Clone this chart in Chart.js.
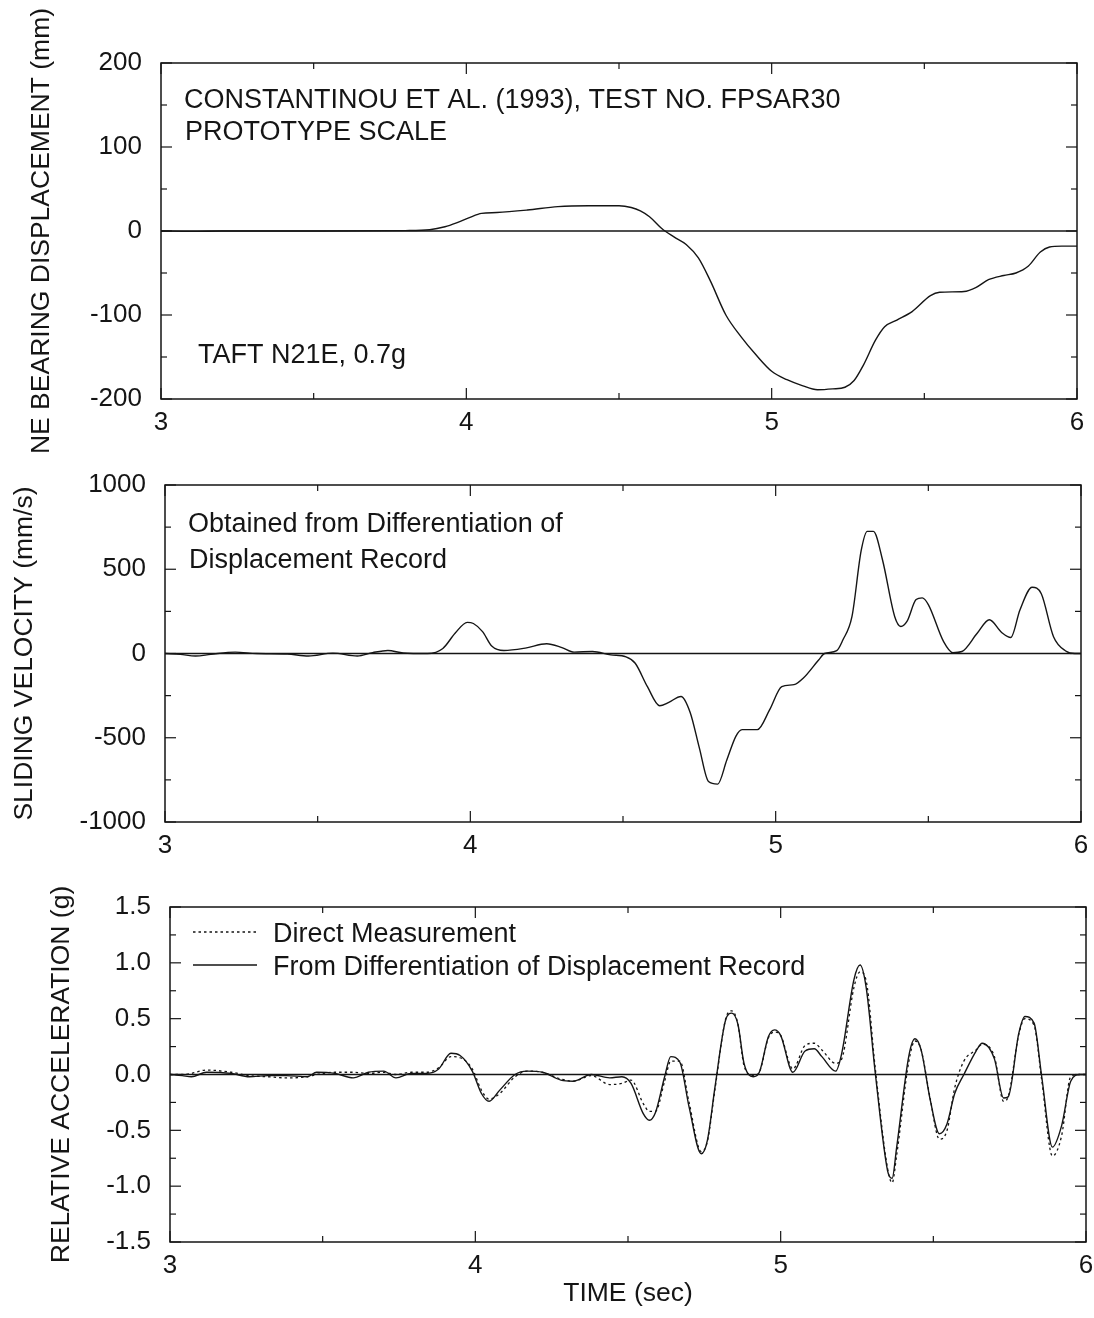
<!DOCTYPE html>
<html>
<head>
<meta charset="utf-8">
<script src="https://cdn.jsdelivr.net/npm/chart.js@4"></script>
<style>
  html, body { margin: 0; padding: 0; background: #fff; }
  #page { position: relative; width: 1094px; height: 1318px; overflow: hidden; }
  canvas { position: absolute; left: 0; }
</style>
</head>
<body>
<div id="page">
  <canvas id="disp" width="1094" height="460" style="top:0"></canvas>
  <canvas id="vel" width="1094" height="420" style="top:460px"></canvas>
  <canvas id="acc" width="1094" height="438" style="top:880px"></canvas>
</div>
<script>
// ---- data ----
const xTicks = [3, 4, 5, 6];
const xMinor = [3.5, 4.5, 5.5];

// NE bearing displacement (mm)
const dispTime = [3.0, 3.1, 3.2, 3.5, 3.8, 3.88, 3.93, 3.97, 4.01, 4.05, 4.1, 4.2, 4.3, 4.4, 4.5, 4.54, 4.57, 4.6, 4.64, 4.68,
  4.72, 4.76, 4.8, 4.85, 4.9, 4.95, 5.0, 5.05, 5.1, 5.15, 5.2, 5.24, 5.27, 5.3, 5.34, 5.37, 5.41, 5.46, 5.52, 5.55,
  5.63, 5.67, 5.71, 5.76, 5.8, 5.84, 5.88, 5.91, 5.95, 6.0];
const dispValues = [0, -0.5, 0, 0, 0.5, 1.5, 5, 10, 16, 21, 22, 25, 29, 30, 30, 28, 24, 17, 3, -7,
  -16, -32, -60, -100, -126, -148, -167, -177, -184, -189, -188, -186, -178, -160, -130, -114, -106, -96, -77, -73,
  -72, -67, -58, -53, -50, -42, -25, -19, -18, -18];
const dispMinor = [150, 50, -50, -150];

// sliding velocity (mm/s)
const velTime = [3.0, 3.05, 3.1, 3.15, 3.23, 3.3, 3.4, 3.47, 3.55, 3.63, 3.68, 3.73, 3.78, 3.86, 3.91, 3.95, 3.99, 4.01, 4.04, 4.07,
  4.11, 4.18, 4.25, 4.3, 4.34, 4.4, 4.46, 4.51, 4.54, 4.58, 4.62, 4.65, 4.69, 4.72, 4.75, 4.78, 4.81, 4.84, 4.87, 4.89,
  4.94, 4.98, 5.02, 5.06, 5.09, 5.14, 5.16, 5.2, 5.22, 5.25, 5.28, 5.3, 5.32, 5.35, 5.39, 5.41, 5.43, 5.46, 5.48, 5.5,
  5.55, 5.58, 5.61, 5.66, 5.7, 5.74, 5.77, 5.8, 5.84, 5.87, 5.91, 5.95, 5.98, 6.0];
const velValues = [0, -5, -15, -5, 8, 0, -3, -15, 2, -15, 5, 18, 3, 0, 30, 120, 185, 178, 130, 45,
  18, 32, 58, 35, 8, 12, -8, -20, -58, -197, -310, -290, -255, -350, -560, -760, -775, -632, -490, -452,
  -452, -335, -197, -185, -147, -40, 0, 17, 80, 220, 610, 725, 725, 555, 218, 160, 190, 320, 330, 290,
  70, 5, 12, 120, 200, 125, 95, 258, 393, 355, 100, 15, 0, 0];
const velMinor = [750, 250, -250, -750];

// relative acceleration (g)
const accTime = [3.0, 3.04, 3.07, 3.12, 3.2, 3.26, 3.32, 3.38, 3.45, 3.48, 3.54, 3.6, 3.65, 3.7, 3.74, 3.79, 3.84, 3.88, 3.92, 3.95,
  3.99, 4.02, 4.045, 4.08, 4.13, 4.17, 4.22, 4.28, 4.32, 4.38, 4.44, 4.48, 4.51, 4.55, 4.57, 4.59, 4.62, 4.64, 4.67, 4.7,
  4.74, 4.76, 4.785, 4.82, 4.84, 4.86, 4.88, 4.91, 4.93, 4.96, 4.98, 5.0, 5.04, 5.08, 5.11, 5.135, 5.18, 5.2, 5.24, 5.26,
  5.28, 5.31, 5.35, 5.365, 5.38, 5.42, 5.44, 5.46, 5.49, 5.52, 5.545, 5.57, 5.6, 5.64, 5.66, 5.7, 5.73, 5.745, 5.78, 5.8,
  5.83, 5.855, 5.89, 5.92, 5.95, 5.98, 6.0];
const accDirect = [0, 0, 0.01, 0.04, 0.02, -0.01, -0.02, -0.03, -0.02, 0, 0.02, 0.02, 0.01, 0.02, 0, 0.02, 0.02, 0.06, 0.16, 0.15,
  0.05, -0.14, -0.22, -0.17, -0.02, 0.03, 0.02, -0.04, -0.06, -0.01, -0.09, -0.08, -0.05, -0.26, -0.33, -0.33, -0.06, 0.12, 0.12, -0.25,
  -0.69, -0.6, -0.13, 0.5, 0.57, 0.45, 0.08, -0.01, 0.02, 0.33, 0.38, 0.35, 0.05, 0.26, 0.28, 0.22, 0.1, 0.14, 0.78, 0.92,
  0.84, 0.05, -0.84, -0.97, -0.72, 0.12, 0.3, 0.22, -0.22, -0.58, -0.5, -0.12, 0.12, 0.22, 0.27, 0.16, -0.24, -0.2, 0.36, 0.5,
  0.44, -0.05, -0.73, -0.55, -0.02, 0, 0];
const accDiff = [0, -0.01, -0.02, 0.02, 0.01, -0.02, -0.01, -0.01, -0.02, 0.02, 0.01, -0.03, 0.02, 0.03, -0.03, 0.01, 0.01, 0.05, 0.19, 0.17,
  0.03, -0.17, -0.24, -0.14, 0, 0.03, 0.02, -0.05, -0.06, 0, -0.03, -0.02, -0.08, -0.35, -0.41, -0.34, -0.02, 0.16, 0.11, -0.29,
  -0.71, -0.59, -0.11, 0.49, 0.55, 0.45, 0.1, -0.02, 0.02, 0.34, 0.4, 0.35, 0.02, 0.21, 0.23, 0.16, 0.03, 0.19, 0.85, 0.98,
  0.78, 0.01, -0.86, -0.93, -0.65, 0.17, 0.32, 0.22, -0.23, -0.53, -0.44, -0.17, 0, 0.21, 0.28, 0.14, -0.21, -0.2, 0.37, 0.52,
  0.46, -0.02, -0.65, -0.46, -0.06, 0, 0];
const accMinor = [1.25, 0.75, 0.25, -0.25, -0.75, -1.25];

// ---- styling ----
const INK = '#151515';
const FONT = '"Liberation Sans", Arial, Helvetica, sans-serif';
Chart.defaults.font.family = FONT;
Chart.defaults.color = INK;

const pairs = (xs, ys) => xs.map((t, i) => ({ x: t, y: ys[i] }));

// frame, inward ticks, zero line and in-plot text
const framePlugin = {
  id: 'frame',
  beforeDatasetsDraw(chart, args, o) {
    const { ctx, chartArea: a, scales: { x, y } } = chart;
    ctx.save();
    ctx.strokeStyle = INK;
    const seg = (x1, y1, x2, y2) => { ctx.beginPath(); ctx.moveTo(x1, y1); ctx.lineTo(x2, y2); ctx.stroke(); };
    ctx.lineWidth = 1.5;
    ctx.strokeRect(a.left, a.top, a.right - a.left, a.bottom - a.top);
    ctx.lineWidth = 1.3;
    const y0 = y.getPixelForValue(0);
    seg(a.left, y0, a.right, y0);
    ctx.lineWidth = 1.2;
    const xt = (v, len) => { const p = x.getPixelForValue(v); seg(p, a.bottom, p, a.bottom - len); seg(p, a.top, p, a.top + len); };
    const yt = (v, len) => { const p = y.getPixelForValue(v); seg(a.left, p, a.left + len, p); seg(a.right, p, a.right - len, p); };
    xTicks.forEach(v => xt(v, 11));
    xMinor.forEach(v => xt(v, 6));
    y.ticks.forEach(t => yt(t.value, 11));
    o.yMinor.forEach(v => yt(v, 6));
    ctx.restore();
  },
  afterDraw(chart, args, o) {
    const { ctx, chartArea: a } = chart;
    ctx.save();
    ctx.fillStyle = INK;
    ctx.textBaseline = 'alphabetic';
    ctx.font = '27px ' + FONT;
    (o.notes || []).forEach(n => ctx.fillText(n.text, a.left + n.dx, a.top + n.dy));
    (o.legend || []).forEach(l => {
      const ds = chart.data.datasets[l.index];
      ctx.strokeStyle = ds.borderColor;
      ctx.lineWidth = ds.borderWidth;
      ctx.setLineDash(ds.borderDash || []);
      ctx.beginPath();
      ctx.moveTo(a.left + l.x1, a.top + l.dy);
      ctx.lineTo(a.left + l.x2, a.top + l.dy);
      ctx.stroke();
      ctx.setLineDash([]);
      ctx.fillText(ds.label, a.left + l.tx, a.top + l.dy + 9.5);
    });
    ctx.restore();
  }
};

function makePanel(id, cfg) {
  return new Chart(document.getElementById(id), {
    type: 'line',
    data: { datasets: cfg.datasets },
    plugins: [framePlugin],
    options: {
      responsive: false,
      animation: false,
      devicePixelRatio: 1,
      layout: { padding: cfg.pad },
      elements: { point: { radius: 0 } },
      plugins: {
        legend: { display: false },
        tooltip: { enabled: false },
        frame: { yMinor: cfg.yMinor, notes: cfg.notes, legend: cfg.legend }
      },
      scales: {
        x: {
          type: 'linear', min: 3, max: 6,
          afterBuildTicks: s => { s.ticks = xTicks.map(v => ({ value: v })); },
          ticks: { color: INK, font: { size: 26 }, padding: 8, maxRotation: 0, autoSkip: false },
          grid: { display: false, drawTicks: false },
          border: { display: false },
          title: cfg.xTitle
            ? { display: true, text: cfg.xTitle, color: INK, font: { size: 26.5 }, padding: { top: 0, bottom: 8 } }
            : { display: false },
          afterFit: s => { s.height = cfg.xHeight; s.paddingLeft = 0; s.paddingRight = 0; }
        },
        y: {
          min: cfg.yMin, max: cfg.yMax,
          ticks: { stepSize: cfg.yStep, color: INK, font: { size: 26 }, padding: 19, callback: cfg.yFmt },
          grid: { display: false, drawTicks: false },
          border: { display: false },
          title: { display: true, text: cfg.yTitle, color: INK, font: { size: 26.5 }, padding: { top: 0, bottom: 0 } },
          afterFit: s => { s.width = cfg.yWidth; s.paddingTop = 0; s.paddingBottom = 0; }
        }
      }
    }
  });
}

const lineStyle = { borderColor: INK, borderWidth: 1.4, fill: false, cubicInterpolationMode: 'monotone' };

makePanel('disp', {
  datasets: [{ label: 'Displacement', data: pairs(dispTime, dispValues), ...lineStyle }],
  pad: { left: 26, top: 63, right: 17, bottom: 0 },
  yWidth: 135, xHeight: 61,
  yMin: -200, yMax: 200, yStep: 100, yMinor: dispMinor,
  yTitle: 'NE BEARING DISPLACEMENT (mm)',
  notes: [
    { text: 'CONSTANTINOU ET AL. (1993), TEST NO. FPSAR30', dx: 23, dy: 45 },
    { text: 'PROTOTYPE SCALE', dx: 24, dy: 77 },
    { text: 'TAFT N21E, 0.7g', dx: 37, dy: 300 }
  ]
});

makePanel('vel', {
  datasets: [{ label: 'Velocity', data: pairs(velTime, velValues), ...lineStyle }],
  pad: { left: 9, top: 25, right: 13, bottom: 0 },
  yWidth: 156, xHeight: 58,
  yMin: -1000, yMax: 1000, yStep: 500, yMinor: velMinor,
  yTitle: 'SLIDING VELOCITY (mm/s)',
  notes: [
    { text: 'Obtained from Differentiation of', dx: 23, dy: 47 },
    { text: 'Displacement Record', dx: 24, dy: 83 }
  ]
});

makePanel('acc', {
  datasets: [
    { label: 'Direct Measurement', data: pairs(accTime, accDirect), ...lineStyle, borderWidth: 1.3, borderDash: [2.5, 3] },
    { label: 'From Differentiation of Displacement Record', data: pairs(accTime, accDiff), ...lineStyle }
  ],
  pad: { left: 46, top: 27, right: 8, bottom: 0 },
  yWidth: 124, xHeight: 76,
  yMin: -1.5, yMax: 1.5, yStep: 0.5, yMinor: accMinor,
  yFmt: v => v.toFixed(1),
  yTitle: 'RELATIVE ACCELERATION (g)',
  xTitle: 'TIME (sec)',
  legend: [
    { index: 0, x1: 23, x2: 87, tx: 103, dy: 25 },
    { index: 1, x1: 23, x2: 87, tx: 103, dy: 58 }
  ]
});
</script>
</body>
</html>
